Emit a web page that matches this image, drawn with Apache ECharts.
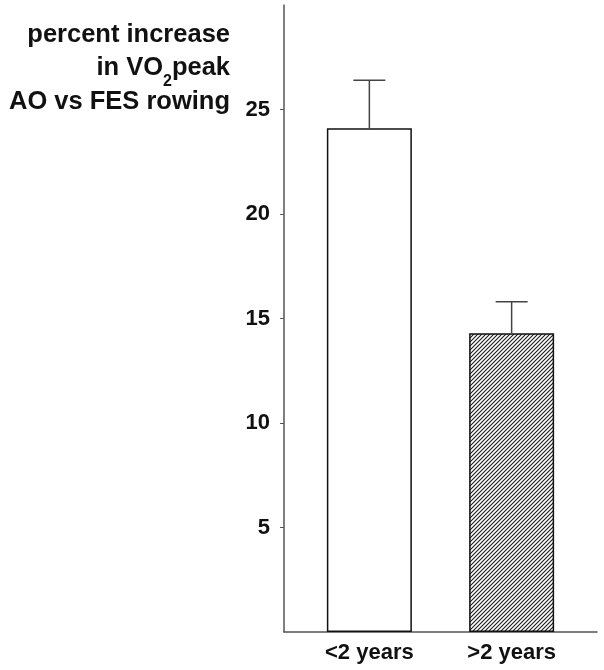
<!DOCTYPE html>
<html>
<head>
<meta charset="utf-8">
<script src="https://cdn.jsdelivr.net/npm/echarts@6/dist/echarts.min.js"></script>
<style>html,body{margin:0;padding:0;background:#fff}#c{width:604px;height:670px}</style>
</head>
<body>
<div id="c"></div>
<script>
// ---- data ----
const categories = ['<2 years', '>2 years'];
const meanValues = [24.1, 14.3];
const errorTops = [26.4, 15.8];
const yTicks = [5, 10, 15, 20, 25];
const titleLines = ['percent increase', 'in VO', '2', 'peak', 'AO vs FES rowing'];

const FONT = "'Liberation Sans', Arial, sans-serif";
const TSIZE = 25.5, SSIZE = 16;

// hatch pattern
const pc = document.createElement('canvas');
pc.width = 4; pc.height = 4;
const g = pc.getContext('2d');
g.fillStyle = '#fff'; g.fillRect(0, 0, 4, 4);
g.strokeStyle = '#1a1a1a'; g.lineWidth = 1.1;
g.beginPath();
g.moveTo(-1, 5); g.lineTo(5, -1);
g.moveTo(-1, 1); g.lineTo(1, -1);
g.moveTo(3, 5); g.lineTo(5, 3);
g.stroke();

// measure text for title line 2
const mc = document.createElement('canvas').getContext('2d');
mc.font = "bold " + TSIZE + "px " + FONT;
const wPeak = mc.measureText(titleLines[3]).width;
mc.font = "bold " + SSIZE + "px " + FONT;
const wSub = mc.measureText(titleLines[2]).width;

const chart = echarts.init(document.getElementById('c'), null, {renderer: 'canvas'});

const barData = meanValues.map((v, i) => ({
  value: [i, v],
  itemStyle: {
    color: i === 0 ? '#ffffff' : {image: pc, repeat: 'repeat'},
    borderColor: '#111', borderWidth: 1.5
  }
}));
const errData = meanValues.map((v, i) => [i, v, errorTops[i]]);

const titleStyle = {font: "bold " + TSIZE + "px " + FONT, fill: '#111', textAlign: 'right', textVerticalAlign: 'middle'};
const mid = b => b - 0.3465 * TSIZE;
const midS = b => b - 0.3465 * SSIZE;

chart.setOption({
  animation: false,
  backgroundColor: '#fff',
  grid: {left: 284, right: 7, top: 5, bottom: 38, containLabel: false},
  xAxis: {
    type: 'value', min: -0.6, max: 1.6,
    splitLine: {show: false},
    axisLine: {show: true, lineStyle: {color: '#555', width: 1.5}},
    axisTick: {show: false},
    axisLabel: {
      customValues: [0, 1],
      formatter: v => categories[Math.round(v)],
      fontSize: 22, fontWeight: 'bold', color: '#111', fontFamily: FONT, margin: 10
    }
  },
  yAxis: {
    type: 'value', min: 0, max: 30, interval: 5,
    splitLine: {show: false},
    axisLine: {show: true, onZero: false, lineStyle: {color: '#555', width: 1.5}},
    axisTick: {show: true, customValues: yTicks, length: 4, lineStyle: {color: '#555', width: 1}},
    axisLabel: {
      customValues: yTicks,
      fontSize: 22, fontWeight: 'bold', color: '#111', fontFamily: FONT, margin: 14
    }
  },
  series: [
    {
      type: 'bar', barWidth: 85, data: barData, z: 2
    },
    {
      type: 'custom', z: 3,
      data: errData,
      renderItem: function (params, api) {
        const base = api.coord([api.value(0), api.value(1)]);
        const top = api.coord([api.value(0), api.value(2)]);
        const half = 16;
        const st = {stroke: '#444', lineWidth: 1.5};
        return {
          type: 'group',
          children: [
            {type: 'line', shape: {x1: base[0], y1: base[1], x2: top[0], y2: top[1]}, style: st},
            {type: 'line', shape: {x1: top[0] - half, y1: top[1], x2: top[0] + half, y2: top[1]}, style: st}
          ]
        };
      }
    }
  ],
  graphic: [
    {type: 'text', x: 230, y: mid(43.5), style: Object.assign({text: titleLines[0]}, titleStyle)},
    {type: 'text', x: 230, y: mid(77), style: Object.assign({text: titleLines[3]}, titleStyle)},
    {type: 'text', x: 230 - wPeak, y: midS(87), style: Object.assign({}, titleStyle, {text: titleLines[2], font: "bold " + SSIZE + "px " + FONT})},
    {type: 'text', x: 230 - wPeak - wSub, y: mid(77), style: Object.assign({text: titleLines[1]}, titleStyle)},
    {type: 'text', x: 230, y: mid(111), style: Object.assign({text: titleLines[4]}, titleStyle)}
  ]
});
</script>
</body>
</html>
